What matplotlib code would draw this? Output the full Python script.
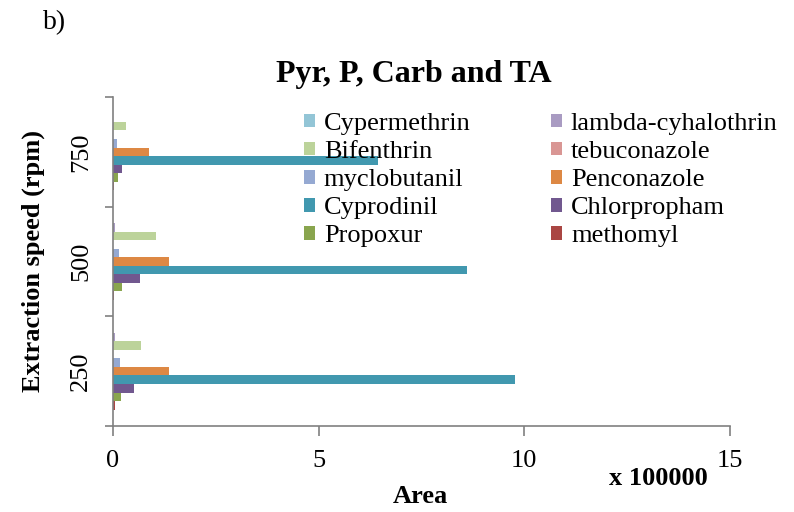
import numpy as np
import matplotlib
matplotlib.use('Agg')
import matplotlib.pyplot as plt

plt.rcParams['font.family'] = ['Liberation Serif', 'DejaVu Serif']

# Data (Area, in units of 100000)
speeds = ['250', '500', '750']
series_names = ['Cypermethrin', 'lambda-cyhalothrin', 'Bifenthrin', 'tebuconazole',
                'myclobutanil', 'Penconazole', 'Cyprodinil', 'Chlorpropham',
                'Propoxur', 'methomyl']
cypermethrin = [0.01, 0.01, 0.01]
lambda_cyhalothrin = [0.05, 0.05, 0.01]
bifenthrin = [0.69, 1.04, 0.32]
tebuconazole = [0.01, 0.01, 0.01]
myclobutanil = [0.17, 0.15, 0.10]
penconazole = [1.37, 1.35, 0.88]
cyprodinil = [9.78, 8.60, 6.44]
chlorpropham = [0.52, 0.65, 0.21]
propoxur = [0.19, 0.21, 0.13]
methomyl = [0.04, 0.02, 0.02]
values = [cypermethrin, lambda_cyhalothrin, bifenthrin, tebuconazole, myclobutanil,
          penconazole, cyprodinil, chlorpropham, propoxur, methomyl]
colors = ['#93C5D6', '#A99BC2', '#BCD39A', '#D99694', '#95A9D2',
          '#DD8844', '#4198AF', '#71588F', '#89A54E', '#AA4643']

fig = plt.figure(figsize=(7.94, 5.12), dpi=100)
ax = fig.add_axes([0.1423, 0.168, 0.777, 0.6426])

h = 0.078
cats = np.arange(len(speeds))
handles = []
for i, (name, vals, c) in enumerate(zip(series_names, values, colors)):
    b = ax.barh(cats + (5 - i) * h, vals, height=h, color=c, label=name)
    handles.append(b)

ax.set_xlim(0, 15)
ax.set_ylim(-0.5, 2.5)
ax.set_xticks([0, 5, 10, 15])
ax.set_xticklabels(['0', '5', '10', '15'], fontsize=19)
ax.set_yticks([-0.5, 0.5, 1.5, 2.5])
ax.set_yticklabels([])
ax.set_yticks(cats, minor=True)
ax.set_yticklabels(speeds, minor=True, rotation=90, va='center', fontsize=19)
ax.tick_params(axis='y', which='minor', length=0, pad=15)
ax.tick_params(axis='y', which='major', length=6, color='#808080', width=1.2)
ax.tick_params(axis='x', length=7, color='#808080', width=1.2, pad=10)
for s in ['top', 'right']:
    ax.spines[s].set_visible(False)
for s in ['left', 'bottom']:
    ax.spines[s].set_color('#808080')
    ax.spines[s].set_linewidth(1.2)

fig.text(0.521, 0.84, 'Pyr, P, Carb and TA', fontsize=23, fontweight='bold',
         ha='center', va='baseline')
ax.set_ylabel('Extraction speed (rpm)', fontsize=19, fontweight='bold', labelpad=18)
fig.text(0.529, 0.018, 'Area', fontsize=19, fontweight='bold', ha='center')
fig.text(0.829, 0.052, 'x 100000', fontsize=19, fontweight='bold', ha='center')
fig.text(0.054, 0.943, 'b)', fontsize=20)

order = [0, 2, 4, 6, 8, 1, 3, 5, 7, 9]
leg = ax.legend([handles[k] for k in order], [series_names[k] for k in order],
                ncol=2, frameon=False, fontsize=19, loc='upper left',
                bbox_to_anchor=(0.383, 0.779), bbox_transform=fig.transFigure,
                handlelength=0.4, handleheight=0.4, handletextpad=0.35,
                labelspacing=0.23, columnspacing=3.05, borderaxespad=0, borderpad=0)

fig.savefig('out.png', dpi=100)
